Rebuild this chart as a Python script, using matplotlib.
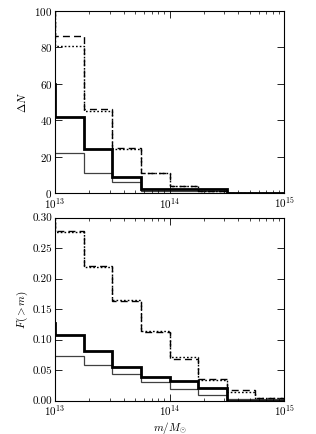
import numpy as np
import matplotlib
matplotlib.use("Agg")
import matplotlib.pyplot as plt
from matplotlib.ticker import LogLocator, FixedLocator, NullLocator

plt.rcParams['font.family'] = 'serif'
plt.rcParams['font.serif'] = ['cmr10', 'DejaVu Serif']
plt.rcParams['mathtext.fontset'] = 'cm'
plt.rcParams['axes.formatter.use_mathtext'] = True
plt.rcParams['font.size'] = 8

# bin edges in log10(m / Msun); first bin lies left of the plotted range
log_edges = np.arange(12.75, 15.01, 0.25)

# differential counts
dn_dashed = [120, 86, 46, 25, 11, 4, 1, 0, 0]
dn_dotted = [110, 81, 45, 24, 11, 4, 1, 0, 0]
dn_heavy = [60, 42, 24, 9, 2, 2, 2, 0, 0]
dn_thin = [22, 22, 11, 6, 1, 1, 1, 0, 0]

# cumulative fraction
f_dashed = [0.35, 0.278, 0.221, 0.163, 0.112, 0.068, 0.036, 0.018, 0.005]
f_dotted = [0.34, 0.276, 0.220, 0.165, 0.114, 0.071, 0.034, 0.015, 0.004]
f_heavy = [0.128, 0.107, 0.082, 0.056, 0.039, 0.033, 0.021, 0.0, 0.0]
f_thin = [0.074, 0.074, 0.059, 0.044, 0.031, 0.019, 0.010, 0.003, 0.003]

edges = 10 ** log_edges

fig = plt.figure(figsize=(3.16, 4.34), dpi=100)
ax1 = fig.add_axes([55 / 316, 1 - 193 / 434, 229 / 316, 182 / 434])
ax2 = fig.add_axes([55 / 316, 1 - 400.7 / 434, 229 / 316, 183 / 434])


def draw(ax, dashed, dotted, heavy, thin):
    ax.stairs(thin, edges, color='0.25', lw=0.9)
    ax.stairs(heavy, edges, color='k', lw=2.0)
    ax.stairs(dashed, edges, color='k', lw=1.0, ls=(0, (5, 3)))
    ax.stairs(dotted, edges, color='k', lw=1.0, ls=(0, (1.2, 1.5)))
    ax.set_xscale('log')
    ax.set_xlim(1e13, 1e15)
    ax.xaxis.set_major_locator(FixedLocator([1e13, 1e14, 1e15]))
    ax.xaxis.set_minor_locator(LogLocator(base=10, subs=np.arange(2, 10)))
    ax.tick_params(which='both', direction='in', top=True, right=True)
    ax.tick_params(which='major', length=5, width=0.6, pad=2)
    ax.tick_params(which='minor', length=2.5, width=0.5)
    for s in ax.spines.values():
        s.set_linewidth(0.8)


draw(ax1, dn_dashed, dn_dotted, dn_heavy, dn_thin)
ax1.set_ylim(0, 100)
ax1.set_yticks([0, 20, 40, 60, 80, 100])
ax1.yaxis.set_minor_locator(NullLocator())
ax1.set_ylabel(r'$\Delta N$', labelpad=4)

draw(ax2, f_dashed, f_dotted, f_heavy, f_thin)
ax2.set_ylim(0, 0.30)
ax2.set_yticks([0, 0.05, 0.10, 0.15, 0.20, 0.25, 0.30])
ax2.set_yticklabels(['0.00', '0.05', '0.10', '0.15', '0.20', '0.25', '0.30'])
ax2.yaxis.set_minor_locator(NullLocator())
ax2.set_ylabel(r'$F(>m)$', labelpad=2)
ax2.set_xlabel(r'$m/M_{\odot}$', labelpad=1)

fig.savefig('out.png', dpi=100)
